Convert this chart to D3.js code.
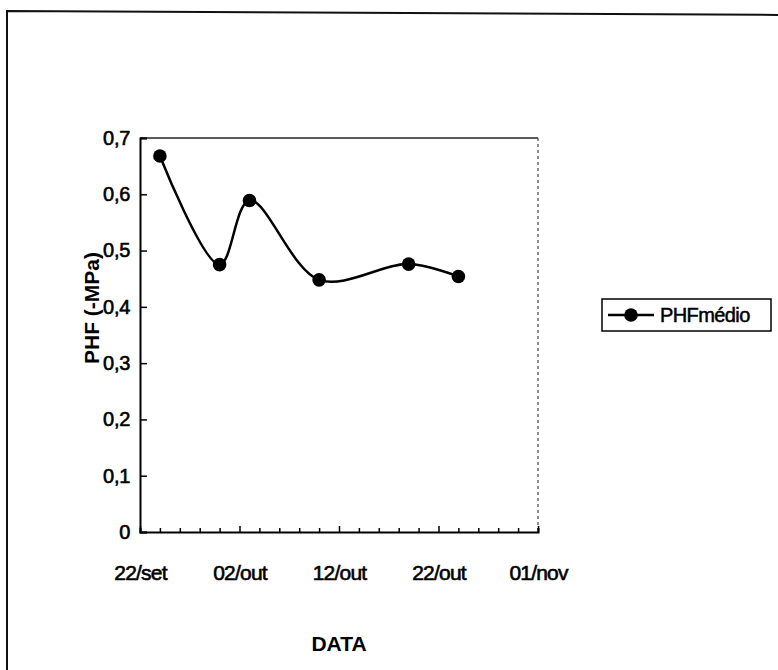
<!DOCTYPE html>
<html>
<head>
<meta charset="utf-8">
<script src="https://cdn.jsdelivr.net/npm/d3@7"></script>
<style>
  body { margin: 0; background: #fff; }
  svg { display: block; font-family: "Liberation Sans", Arial, sans-serif; }
</style>
</head>
<body>
<svg id="chart" width="778" height="670"></svg>
<script>
// dados
const datas = ["2000-09-24", "2000-09-30", "2000-10-03", "2000-10-10", "2000-10-19", "2000-10-24"];
const phfMedio = [0.668, 0.475, 0.589, 0.448, 0.476, 0.454];
const yTicks = [0, 0.1, 0.2, 0.3, 0.4, 0.5, 0.6, 0.7];
const yTickLabels = ["0", "0,1", "0,2", "0,3", "0,4", "0,5", "0,6", "0,7"];
const xTickDates = ["2000-09-22", "2000-10-02", "2000-10-12", "2000-10-22", "2000-11-01"];
const xTickLabels = ["22/set", "02/out", "12/out", "22/out", "01/nov"];
const serieNome = "PHFmédio";

const parse = d3.timeParse("%Y-%m-%d");
const svg = d3.select("#chart");

const pLeft = 140, pRight = 538, pTop = 138, pBottom = 532;

const x = d3.scaleTime()
  .domain([parse(xTickDates[0]), parse(xTickDates[xTickDates.length - 1])])
  .range([pLeft, pRight]);
const y = d3.scaleLinear().domain([0, 0.7]).range([pBottom, pTop]);

// moldura externa
svg.append("path")
  .attr("d", "M7,700 L7,11 L790,15")
  .attr("fill", "none")
  .attr("stroke", "#111")
  .attr("stroke-width", 2);

// borda da área de plotagem (topo e direita)
svg.append("line")
  .attr("x1", pLeft).attr("x2", pRight).attr("y1", pTop).attr("y2", pTop)
  .attr("stroke", "#222").attr("stroke-width", 1.5);
svg.append("line")
  .attr("x1", pRight).attr("x2", pRight).attr("y1", pTop).attr("y2", pBottom)
  .attr("stroke", "#444").attr("stroke-width", 1.2)
  .attr("stroke-dasharray", "3,3");

// eixo Y
const yAxis = svg.append("g")
  .attr("transform", `translate(${pLeft},0)`)
  .call(d3.axisLeft(y)
    .tickValues(yTicks)
    .tickFormat((d, i) => yTickLabels[i])
    .tickSize(-7)
    .tickPadding(10));
yAxis.select(".domain").attr("stroke", "#000").attr("stroke-width", 2);
yAxis.selectAll(".tick line").attr("stroke", "#000").attr("stroke-width", 1.5);
yAxis.selectAll("text")
  .attr("font-size", 20).attr("fill", "#000")
  .attr("stroke", "#000").attr("stroke-width", 0.6)
  .attr("letter-spacing", -0.3);

// eixo X: marcas a cada 2 dias, rótulos a cada 10
const minorTicks = d3.timeDay.range(x.domain()[0], d3.timeDay.offset(x.domain()[1], 1), 2);
const labelMap = new Map(xTickDates.map((d, i) => [+parse(d), xTickLabels[i]]));
const xAxis = svg.append("g")
  .attr("transform", `translate(0,${pBottom})`)
  .call(d3.axisBottom(x)
    .tickValues(minorTicks)
    .tickFormat(d => labelMap.get(+d) || "")
    .tickSize(-4)
    .tickPadding(33));
xAxis.select(".domain").attr("stroke", "#000").attr("stroke-width", 2);
xAxis.selectAll(".tick line")
  .attr("stroke", "#000").attr("stroke-width", 1.5)
  .attr("y2", d => labelMap.has(+d) ? -6 : -4);
xAxis.selectAll("text")
  .attr("font-size", 21).attr("fill", "#000")
  .attr("stroke", "#000").attr("stroke-width", 0.6)
  .attr("letter-spacing", -0.8);

// títulos dos eixos
svg.append("text")
  .attr("transform", "translate(99,308) rotate(-90)")
  .attr("text-anchor", "middle")
  .attr("font-size", 21).attr("font-weight", "bold")
  .text("PHF (-MPa)");
svg.append("text")
  .attr("x", 339).attr("y", 651)
  .attr("text-anchor", "middle")
  .attr("font-size", 21).attr("font-weight", "bold")
  .text("DATA");

// série
const pts = datas.map((d, i) => ({ date: parse(d), v: phfMedio[i] }));
const line = d3.line()
  .x(d => x(d.date))
  .y(d => y(d.v))
  .curve(d3.curveCatmullRom.alpha(0.5));
svg.append("path")
  .datum(pts)
  .attr("d", line)
  .attr("fill", "none")
  .attr("stroke", "#000")
  .attr("stroke-width", 2.5);
svg.selectAll(".pt")
  .data(pts)
  .join("circle")
  .attr("class", "pt")
  .attr("cx", d => x(d.date))
  .attr("cy", d => y(d.v))
  .attr("r", 6.8)
  .attr("fill", "#000");

// legenda
const lg = svg.append("g");
lg.append("rect")
  .attr("x", 602).attr("y", 299).attr("width", 169).attr("height", 32)
  .attr("fill", "#fff").attr("stroke", "#000").attr("stroke-width", 1.5);
lg.append("line")
  .attr("x1", 608).attr("x2", 654).attr("y1", 315).attr("y2", 315)
  .attr("stroke", "#000").attr("stroke-width", 2.5);
lg.append("circle")
  .attr("cx", 631).attr("cy", 315).attr("r", 6.8).attr("fill", "#000");
lg.append("text")
  .attr("x", 660).attr("y", 322)
  .attr("font-size", 20).attr("letter-spacing", -0.6)
  .attr("stroke", "#000").attr("stroke-width", 0.5)
  .text(serieNome);
</script>
</body>
</html>
